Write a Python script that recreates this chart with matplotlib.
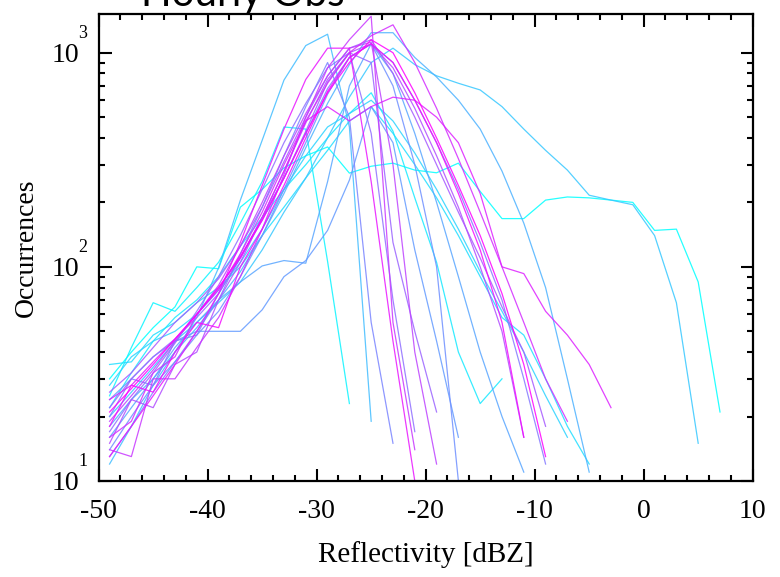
import numpy as np
import matplotlib
matplotlib.use("Agg")
import matplotlib.pyplot as plt
import matplotlib.ticker as mticker

plt.rcParams['axes.unicode_minus'] = False
plt.rcParams['font.family'] = ['Liberation Serif', 'DejaVu Serif']

# reflectivity bins (dBZ) shared by all hourly curves; each curve uses the first len(values) bins
dbz_bins = [-49, -47, -45, -43, -41, -39, -37, -35, -33, -31, -29, -27, -25, -23,
            -21, -19, -17, -15, -13, -11, -9, -7, -5, -3, -1, 1, 3, 5, 7]

# occurrences per hour (hour 0 .. 23)
h00 = [30, 40, 52, 65, 100, 98, 190, 230, 290, 330, 363, 274, 295, 305, 283, 275, 305, 225,
       168, 168, 205, 212, 210, 205, 200, 148, 150, 85, 21]
h01 = [25, 42, 68, 62, 80, 105, 160, 250, 450, 440, 106, 23]
h02 = [22, 32, 45, 58, 70, 90, 125, 170, 230, 300, 400, 520, 650, 430, 210, 105, 40, 23, 30]
h03 = [35, 36, 48, 55, 68, 80, 100, 140, 190, 260, 350, 480, 560, 420, 300, 210, 140, 90,
       58, 48, 30, 18, 12]
h04 = [28, 38, 45, 50, 60, 78, 105, 150, 230, 330, 450, 520, 600, 480, 340, 230, 150, 95,
       62, 40, 25, 16]
h05 = [20, 26, 34, 45, 55, 68, 85, 120, 180, 260, 400, 620, 900, 1050, 880, 780, 720, 670,
       560, 440, 350, 283, 216, 205, 195, 140, 68, 15]
h06 = [12, 18, 28, 40, 58, 99, 205, 390, 745, 1080, 1220, 450, 19]
h07 = [18, 24, 30, 40, 52, 70, 95, 140, 220, 360, 580, 880, 1240, 1240, 950, 770, 600, 440,
       280, 160, 80, 30, 11]
h08 = [16, 22, 30, 42, 55, 70, 85, 101, 107, 104, 250, 700, 1100, 800, 420, 200, 90, 40, 20, 11]
h09 = [24, 30, 38, 45, 50, 50, 50, 63, 90, 107, 148, 254, 560, 380, 120, 45, 16]
h10 = [14, 20, 28, 36, 48, 62, 90, 140, 230, 380, 640, 950, 1100, 700, 300, 100, 10]
h11 = [13, 18, 26, 36, 50, 70, 115, 190, 330, 560, 900, 500, 55, 15]
h12 = [20, 30, 28, 45, 48, 75, 110, 170, 260, 420, 680, 950, 1100, 900, 600, 380, 230, 130,
       70, 30, 12]
h13 = [17, 24, 32, 44, 62, 90, 140, 230, 380, 580, 850, 1000, 420, 70, 17]
h14 = [22, 30, 38, 46, 58, 75, 110, 165, 260, 430, 730, 1000, 900, 130, 50, 21]
h15 = [26, 32, 42, 55, 68, 88, 125, 190, 310, 500, 780, 1050, 1150, 800, 500, 300, 180, 110,
       65, 40, 18]
h16 = [15, 24, 22, 35, 40, 70, 105, 170, 280, 470, 750, 1000, 1100, 850, 550, 330, 190, 100,
       50, 16]
h17 = [19, 25, 33, 45, 60, 82, 125, 200, 330, 520, 780, 1050, 1120, 300, 40, 12]
h18 = [14, 13, 30, 30, 42, 58, 90, 150, 270, 500, 850, 1150, 1480, 55, 14]
h19 = [16, 19, 32, 38, 60, 78, 115, 180, 300, 480, 720, 1000, 1200, 1350, 900, 550, 320, 180,
       100, 55, 30, 19]
h20 = [24, 28, 36, 46, 60, 80, 110, 170, 280, 480, 560, 480, 560, 620, 600, 500, 380, 220,
       100, 93, 62, 48, 35, 22]
h21 = [13, 18, 25, 35, 50, 75, 130, 240, 440, 750, 1050, 1050, 250, 45, 10]
h22 = [18, 28, 26, 40, 55, 52, 100, 150, 240, 400, 660, 950, 1100, 900, 600, 380, 220, 120,
       55, 16]
h23 = [21, 27, 35, 46, 60, 80, 112, 165, 260, 420, 650, 900, 1150, 1000, 650, 400, 240, 140,
       75, 35, 13]

hourly = [h00, h01, h02, h03, h04, h05, h06, h07, h08, h09, h10, h11,
          h12, h13, h14, h15, h16, h17, h18, h19, h20, h21, h22, h23]

fig = plt.figure(figsize=(7.8, 5.77), dpi=100)
ax = fig.add_axes([0.1265, 0.1664, 0.8385, 0.8093])

cmap = plt.cm.cool
n = len(hourly)
for i, occ in enumerate(hourly):
    ax.plot(dbz_bins[:len(occ)], occ, color=cmap(i / (n - 1)), lw=0.9, alpha=0.85)

ax.set_yscale('log')
ax.set_xlim(-50, 10)
ax.set_ylim(10, 1516)

ax.xaxis.set_major_locator(mticker.MultipleLocator(10))
ax.xaxis.set_minor_locator(mticker.MultipleLocator(2))
ax.xaxis.set_major_formatter(mticker.FuncFormatter(lambda v, p: f'{v:.0f}'))
ax.yaxis.set_major_locator(mticker.LogLocator(base=10))
ax.yaxis.set_minor_locator(mticker.LogLocator(base=10, subs=np.arange(2, 10)))
ax.yaxis.set_major_formatter(mticker.FuncFormatter(lambda v, p: '10'))
ax.yaxis.set_minor_formatter(mticker.NullFormatter())

for side in ax.spines.values():
    side.set_linewidth(1.6)
ax.tick_params(which='both', direction='in', top=True, right=True, width=1.5)
ax.tick_params(which='major', length=9, labelsize=20)
ax.tick_params(which='minor', length=4.5)
ax.tick_params(axis='x', which='major', pad=13)
ax.tick_params(axis='y', which='major', pad=14)

# IDL-style exponents sitting above the "10" labels
for v in [10, 100, 1000]:
    ax.annotate(f'{int(np.log10(v))}', xy=(0, v), xycoords=('axes fraction', 'data'),
                xytext=(-11.5, 8), textcoords='offset points', fontsize=13,
                ha='center', va='bottom')

ax.set_xlabel('Reflectivity [dBZ]', fontsize=21, labelpad=12)
ax.set_ylabel('Occurrences', fontsize=20, labelpad=9)

fig.text(0.311, 0.9896, 'Hourly Obs', family=['Lato', 'DejaVu Sans'], fontsize=29,
         ha='center', va='baseline')

fig.savefig('out.png', dpi=100)
